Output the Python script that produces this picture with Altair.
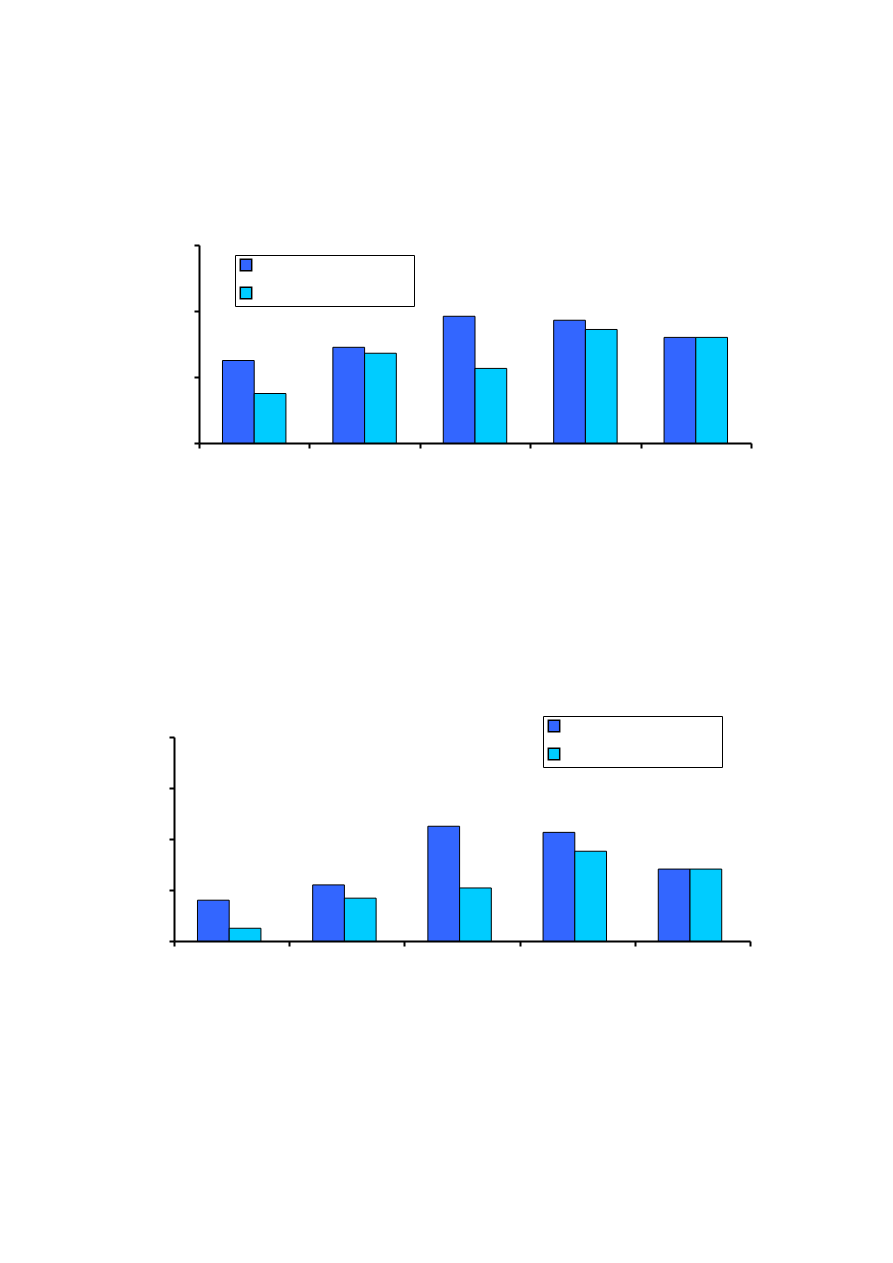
import altair as alt
import pandas as pd

categories = ["1", "2", "3", "4", "5"]
series = ["Series 1", "Series 2"]
top_s1 = [1.25, 1.45, 1.92, 1.86, 1.60]
top_s2 = [0.75, 1.36, 1.13, 1.72, 1.60]
bot_s1 = [0.80, 1.10, 2.25, 2.13, 1.41]
bot_s2 = [0.25, 0.84, 1.04, 1.76, 1.41]
colors = ["#3366FF", "#00CCFF"]

PAD = "  " + "M" * 18


def make_df(a, b):
    rows = []
    for c, v in zip(categories, a):
        rows.append({"cat": c, "series": series[0], "value": v})
    for c, v in zip(categories, b):
        rows.append({"cat": c, "series": series[1], "value": v})
    return pd.DataFrame(rows)


def panel(df, ymax, xrange_, yoffset, width, height, lx, ly):
    return alt.Chart(df).mark_bar(stroke="black", strokeWidth=1).encode(
        x=alt.X("cat:N", sort=categories,
                scale=alt.Scale(paddingInner=0, paddingOuter=0, range=xrange_),
                axis=alt.Axis(title=None, labels=False, tickBand="extent",
                              domainColor="black", domainWidth=2,
                              tickColor="black", tickWidth=2, tickSize=5,
                              grid=False)),
        xOffset=alt.XOffset("series:N", sort=series,
                            scale=alt.Scale(paddingInner=0, paddingOuter=0.74)),
        y=alt.Y("value:Q", scale=alt.Scale(domain=[0, ymax], nice=False),
                axis=alt.Axis(title=None, labels=False,
                              values=list(range(ymax + 1)), offset=yoffset,
                              domainColor="black", domainWidth=2,
                              tickColor="black", tickWidth=2, tickSize=5,
                              grid=False)),
        color=alt.Color("series:N", sort=series,
                        scale=alt.Scale(domain=series, range=colors),
                        legend=alt.Legend(title=None, orient="none",
                                          legendX=lx, legendY=ly,
                                          symbolType="square", symbolSize=130,
                                          symbolStrokeColor="black",
                                          symbolStrokeWidth=1.5,
                                          symbolOffset=1,
                                          labelOpacity=0, labelFontSize=8,
                                          labelLimit=400,
                                          labelExpr="datum.label + '" + PAD + "'",
                                          rowPadding=9, padding=3.5,
                                          strokeColor="black",
                                          fillColor="white")),
    ).properties(width=width, height=height)


top = panel(make_df(top_s1, top_s2), 3, [25, 577], -25, 577, 198, 61, 10)
bot = panel(make_df(bot_s1, bot_s2), 4, [0, 576], 0, 576, 204, 369, -21)

chart = alt.vconcat(top, bot, spacing=266).resolve_scale(
    color="independent").resolve_legend(color="independent").properties(
    padding={"top": 236, "left": 160, "right": 5, "bottom": 5}
).configure_view(stroke=None)

chart.save("out.html", embed_options={"renderer": "svg", "actions": False})
